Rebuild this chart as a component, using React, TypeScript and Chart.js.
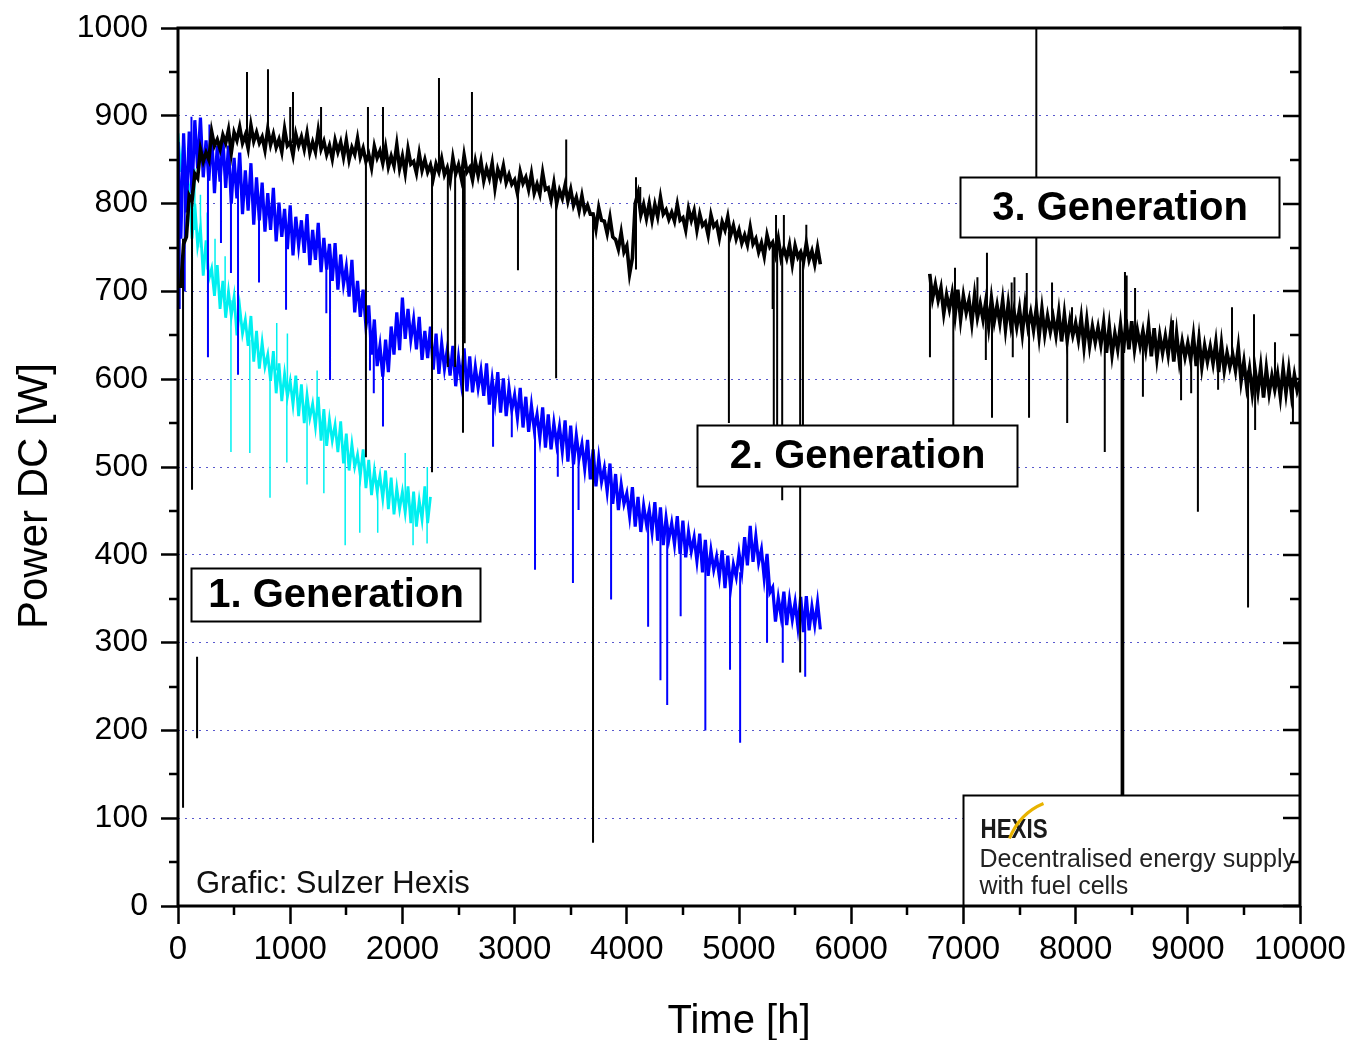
import React, { useEffect, useRef } from "react";
import { Chart, registerables } from "chart.js";

Chart.register(...registerables);

// Sampling grid of the logged curves (hours between samples)
const STEP_H = 25;

// 2nd generation system, black curve, from 0 h
const GEN2_BLACK_START = 0;
const GEN2_BLACK = [
  706, 706, 754, 762, 809, 803, 834, 829, 862, 848, 858, 850, 882, 866, 873, 862,
  878, 869, 884, 858, 881, 872, 887, 869, 878, 863, 889, 871, 881, 869, 876, 861,
  885, 867, 879, 864, 873, 859, 885, 866, 870, 855, 879, 866, 876, 862, 880, 858,
  870, 859, 883, 862, 871, 856, 866, 851, 872, 859, 870, 853, 872, 850, 864, 856,
  874, 853, 863, 848, 856, 841, 865, 852, 860, 846, 864, 842, 854, 843, 867, 840,
  854, 835, 862, 845, 848, 835, 857, 838, 850, 836, 844, 829, 845, 836, 851, 833,
  841, 826, 852, 834, 844, 829, 855, 836, 841, 827, 848, 832, 848, 826, 840, 829,
  846, 818, 839, 829, 843, 824, 833, 822, 827, 812, 836, 823, 830, 816, 834, 812,
  822, 811, 835, 816, 818, 804, 823, 800, 815, 806, 821, 803, 816, 798, 807, 792,
  809, 791, 798, 788, 788, 771, 795, 781, 780, 766, 784, 762, 759, 748, 767, 745,
  752, 720, 738,
  800, 812, 787, 799, 783,
  800, 781, 799, 785, 807, 788, 793, 782, 790, 780, 799, 781, 784, 770, 794, 781,
  792, 770, 788, 775, 779, 764, 787, 774, 778, 761, 779, 770, 785, 764, 775, 760,
  770, 755, 764, 753, 773, 754, 760, 745, 755, 740, 764, 751, 756, 742, 760, 738,
  749, 738, 753, 731, 752, 739, 745, 734, 755, 736, 746, 731, 750, 731,
];

// 2nd generation system, blue curve, from 0 h
const GEN2_BLUE_START = 0;
const GEN2_BLUE = [
  870, 760, 880, 790, 882, 812, 895, 840, 898, 830, 872, 826, 880, 812, 866, 825,
  874, 818, 866, 800, 852, 806, 858, 788, 838, 792, 846, 776, 830, 781, 824, 768,
  812, 770, 818, 757, 801, 762, 794, 748, 798, 741, 785, 752, 781, 744, 788, 730,
  770, 736, 778, 722, 761, 725, 754, 712, 755, 702, 742, 708, 728, 694, 736, 676,
  712, 671, 702, 660, 684, 628, 668, 615, 638, 603, 645, 608, 660, 628, 676, 633,
  693, 646, 680, 645, 668, 634, 671, 622, 655, 624, 660, 611, 652, 606, 641, 612,
  634, 604, 638, 592, 624, 597, 635, 586, 626, 585, 614, 590, 610, 581, 618, 571,
  600, 574, 608, 562, 601, 558, 590, 565, 582, 556, 590, 545, 580, 540, 570, 543,
  560, 533, 568, 522, 560, 520, 550, 526, 546, 518, 553, 506, 547, 503, 536, 510,
  526, 498, 531, 486, 520, 478, 510, 483, 499, 472, 504, 458, 492, 451, 480, 458,
  470, 444, 477, 432, 466, 426, 456, 435, 451, 426, 460, 416, 454, 411, 442, 418,
  436, 412, 444, 401, 439, 397, 426, 404, 420, 393, 424, 380, 417, 376, 405, 383,
  398, 375, 405, 362, 399, 362, 389, 375, 402, 381, 420, 388, 433, 392, 421, 391,
  406, 373, 401, 357, 363, 324, 351, 330, 358, 320, 349, 326, 346, 318, 352, 312,
  353, 314, 341, 320, 346, 315,
];

// 1st generation system, cyan curve, from 0 h
const GEN1_CYAN_START = 0;
const GEN1_CYAN = [
  880, 836, 870, 800, 815, 760, 800, 752, 772, 718, 758, 714, 726, 695, 730, 680,
  712, 670, 700, 672, 694, 650, 682, 652, 668, 638, 672, 620, 655, 612, 642, 614,
  628, 598, 632, 584, 618, 575, 606, 580, 598, 571, 604, 558, 594, 550, 582, 556,
  572, 546, 580, 530, 566, 524, 554, 530, 548, 517, 552, 504, 538, 496, 526, 500,
  514, 490, 520, 476, 508, 468, 496, 472, 490, 464, 496, 452, 488, 446, 476, 452,
  472, 448, 478, 436, 472, 432, 462, 440, 478, 436, 466,
];

// 3rd generation system, black curve, from 6700 h
const GEN3_BLACK_START = 6700;
const GEN3_BLACK = [
  720, 692, 708, 690,
  704, 675, 696, 680, 698, 672, 702, 668, 695, 676, 690, 664, 696, 670, 686, 668,
  689, 660, 692, 666, 684, 664, 690, 657, 686, 660, 678, 659, 680, 652, 684, 660,
  676, 656, 681, 649, 680, 651, 672, 654, 670, 650, 676, 643, 674, 644, 667, 650,
  664, 645, 670, 637, 667, 638, 660, 642, 659, 639, 664, 630, 660, 628, 652, 634,
  662, 630, 668, 634, 666, 634, 656, 638, 655, 634, 661, 626, 658, 624, 650, 630,
  649, 628, 656, 620, 652, 621, 643, 625, 641, 622, 649, 615, 646, 614, 638, 620,
  637, 618, 642, 608, 640, 610, 630, 614, 628, 610, 636, 598, 620, 592, 612, 584,
  610, 586, 614, 579, 612, 584, 604, 588, 606, 580, 612, 584, 611, 582, 605, 587,
  598,
];

// Outliers: [hour, level before outlier (W), outlier value (W)]
const BLACK_SPIKES = [
  [45, 760, 112], [125, 815, 474], [170, 284, 191],
  [615, 876, 950], [802, 872, 953], [1000, 870, 910], [1025, 869, 927],
  [1275, 866, 910], [1675, 855, 511], [1693, 855, 910], [1827, 852, 910],
  [2264, 842, 494], [2326, 840, 943], [2405, 839, 614], [2470, 838, 614],
  [2540, 838, 539], [2555, 838, 641], [2620, 838, 927], [3030, 826, 724],
  [3370, 815, 601], [3460, 810, 873], [3699, 790, 72], [4082, 725, 830],
  [4120, 795, 819], [4910, 768, 550], [5300, 750, 680], [5310, 750, 540],
  [5330, 748, 787], [5340, 748, 540], [5385, 745, 462], [5400, 745, 787],
  [5545, 742, 266], [5570, 740, 540], [5600, 740, 776],
  [6702, 712, 625], [6910, 688, 540], [6925, 690, 727], [7125, 680, 716],
  [7200, 678, 622], [7210, 678, 744], [7255, 676, 556], [7430, 672, 710],
  [7440, 672, 625], [7455, 672, 716], [7565, 670, 721], [7585, 668, 556],
  [7650, 668, 1000], [7790, 664, 710], [7925, 660, 550], [7968, 660, 682],
  [8260, 648, 517], [8410, 645, 80], [8425, 645, 80], [8440, 645, 722],
  [8455, 645, 718], [8530, 650, 704], [8600, 646, 580], [8868, 640, 667],
  [8940, 638, 576], [9030, 636, 584], [9090, 633, 449], [9100, 632, 657],
  [9270, 628, 588], [9394, 624, 682], [9537, 610, 340], [9590, 600, 674],
  [9600, 600, 542], [9777, 598, 642], [9937, 597, 550],
];

const BLUE_SPIKES = [
  [15, 800, 680], [60, 820, 700], [120, 850, 899], [267, 850, 625],
  [280, 845, 890], [383, 840, 755], [472, 830, 721], [535, 825, 605],
  [722, 800, 710], [963, 780, 679], [1322, 740, 675], [1355, 735, 599],
  [1711, 650, 610], [1745, 650, 584], [1827, 620, 546], [2808, 585, 523],
  [2975, 575, 534], [3182, 550, 383], [3385, 535, 489], [3520, 525, 368],
  [3570, 520, 451], [3860, 480, 349], [4190, 440, 318], [4300, 432, 257],
  [4360, 428, 229], [4480, 420, 330], [4700, 400, 200], [4920, 380, 269],
  [5010, 380, 186], [5250, 390, 300], [5390, 340, 277], [5590, 335, 261],
];

const CYAN_SPIKES = [
  [150, 770, 840], [200, 750, 810], [260, 725, 790], [330, 705, 760],
  [420, 690, 740], [472, 690, 517], [640, 645, 516], [820, 610, 465],
  [880, 610, 664], [970, 590, 505], [975, 590, 652], [1150, 570, 480],
  [1240, 560, 610], [1300, 550, 470], [1490, 530, 411], [1620, 505, 425],
  [1780, 485, 425], [2025, 460, 516], [2095, 455, 411], [2220, 450, 413],
  [2222, 450, 500],
];

const X_TICKS = [0, 1000, 2000, 3000, 4000, 5000, 6000, 7000, 8000, 9000, 10000];
const X_MINOR = [500, 1500, 2500, 3500, 4500, 5500, 6500, 7500, 8500, 9500];
const Y_TICKS = [0, 100, 200, 300, 400, 500, 600, 700, 800, 900, 1000];
const Y_MINOR = [50, 150, 250, 350, 450, 550, 650, 750, 850, 950];

const X_TITLE = "Time [h]";
const Y_TITLE = "Power DC [W]";
const LABELS = [
  { text: "1. Generation", h0: 115, h1: 2690, w0: 385, w1: 325 },
  { text: "2. Generation", h0: 4630, h1: 7475, w0: 548, w1: 478 },
  { text: "3. Generation", h0: 6970, h1: 9815, w0: 830, w1: 762 },
];
const CREDIT = "Grafic: Sulzer Hexis";
const LOGO = "HEXIS";
const LOGO_LINES = ["Decentralised energy supply", "with fuel cells"];

const FONT = "'Liberation Sans', Arial, Helvetica, sans-serif";

function toPoints(start: number, values: number[]) {
  return values.map((y, i) => ({ x: start + i * STEP_H, y }));
}

function spikePoints(list: number[][]) {
  const pts: { x: number; y: number | null }[] = [];
  list.forEach(([h, base, tip]) => {
    pts.push({ x: h, y: base });
    pts.push({ x: h, y: tip });
    pts.push({ x: h, y: null });
  });
  return pts;
}

const overlayPlugin = {
  id: "overlay",
  afterDatasetsDraw(chart: any) {
    const { ctx, scales } = chart;
    const xs = scales.x;
    const ys = scales.y;
    const px = (h: number) => xs.getPixelForValue(h);
    const py = (w: number) => ys.getPixelForValue(w);
    ctx.save();
    // generation labels
    LABELS.forEach((b) => {
      const l = Math.round(px(b.h0)) + 0.5;
      const r = Math.round(px(b.h1)) + 0.5;
      const t = Math.round(py(b.w0)) + 0.5;
      const bt = Math.round(py(b.w1)) + 0.5;
      ctx.fillStyle = "#fff";
      ctx.fillRect(l, t, r - l, bt - t);
      ctx.lineWidth = 2;
      ctx.strokeStyle = "#000";
      ctx.strokeRect(l, t, r - l, bt - t);
      ctx.fillStyle = "#000";
      ctx.font = `bold 40px ${FONT}`;
      ctx.textAlign = "center";
      ctx.textBaseline = "middle";
      ctx.fillText(b.text, (l + r) / 2, (t + bt) / 2 + 1);
    });
    // logo box
    const ll = Math.round(px(7000)) + 0.5;
    const lr = Math.round(px(10000));
    const lt = Math.round(py(126)) + 0.5;
    const lb = Math.round(py(0));
    ctx.fillStyle = "#fff";
    ctx.fillRect(ll, lt, lr - ll, lb - lt);
    ctx.lineWidth = 2;
    ctx.strokeStyle = "#000";
    ctx.strokeRect(ll, lt, lr - ll, lb - lt);
    ctx.textAlign = "left";
    ctx.textBaseline = "alphabetic";
    // HEXIS logo
    ctx.save();
    ctx.translate(ll + 17, lt + 42);
    ctx.scale(0.8, 1);
    ctx.font = `bold 28px ${FONT}`;
    ctx.fillStyle = "#1a1a1a";
    ctx.fillText(LOGO, 0, 0);
    ctx.restore();
    ctx.beginPath();
    ctx.moveTo(ll + 46, lt + 43);
    ctx.quadraticCurveTo(ll + 56, lt + 18, ll + 80, lt + 8);
    ctx.lineWidth = 3;
    ctx.strokeStyle = "#e8b300";
    ctx.stroke();
    ctx.fillStyle = "#222";
    ctx.font = `25px ${FONT}`;
    ctx.fillText(LOGO_LINES[0], ll + 16, lt + 71);
    ctx.fillText(LOGO_LINES[1], ll + 16, lt + 98);
    // credit
    ctx.fillStyle = "#111";
    ctx.font = `31px ${FONT}`;
    ctx.fillText(CREDIT, px(160), py(15));
    ctx.restore();
  },
  afterDraw(chart: any) {
    const { ctx, chartArea, scales } = chart;
    const xs = scales.x;
    const ys = scales.y;
    const { left, right, top, bottom } = chartArea;
    ctx.save();
    ctx.strokeStyle = "#000";
    ctx.lineWidth = 3;
    ctx.strokeRect(left, top, right - left, bottom - top);
    ctx.lineWidth = 2.5;
    ctx.beginPath();
    Y_MINOR.forEach((v) => {
      const y = Math.round(ys.getPixelForValue(v));
      ctx.moveTo(left - 9, y);
      ctx.lineTo(left, y);
      ctx.moveTo(right, y);
      ctx.lineTo(right - 10, y);
    });
    Y_TICKS.forEach((v) => {
      const y = Math.round(ys.getPixelForValue(v));
      ctx.moveTo(right, y);
      ctx.lineTo(right - 17, y);
    });
    X_MINOR.forEach((v) => {
      const x = Math.round(xs.getPixelForValue(v));
      ctx.moveTo(x, bottom);
      ctx.lineTo(x, bottom + 9);
    });
    ctx.stroke();
    // axis titles
    ctx.fillStyle = "#000";
    ctx.font = `40px ${FONT}`;
    ctx.textAlign = "center";
    ctx.textBaseline = "alphabetic";
    ctx.fillText(X_TITLE, (left + right) / 2, bottom + 127);
    ctx.save();
    ctx.translate(47, (top + bottom) / 2 + 29);
    ctx.rotate(-Math.PI / 2);
    ctx.font = `42px ${FONT}`;
    ctx.fillText(Y_TITLE, 0, 0);
    ctx.restore();
    ctx.restore();
  },
};

export default function App() {
  const ref = useRef<HTMLCanvasElement | null>(null);
  useEffect(() => {
    document.body.style.margin = "0";
    const canvas = ref.current;
    if (!canvas) return;
    const chart = new Chart(canvas, {
      type: "line",
      data: {
        datasets: [
          {
            data: spikePoints(BLACK_SPIKES),
            borderColor: "#000",
            borderWidth: 2,
            order: 1,
            spanGaps: false,
          },
          {
            data: toPoints(GEN2_BLACK_START, GEN2_BLACK),
            borderColor: "#000",
            borderWidth: 3.6,
            order: 2,
          },
          {
            data: toPoints(GEN3_BLACK_START, GEN3_BLACK),
            borderColor: "#000",
            borderWidth: 3.6,
            order: 2,
          },
          {
            data: spikePoints(BLUE_SPIKES),
            borderColor: "#0000ff",
            borderWidth: 2,
            order: 3,
            spanGaps: false,
          },
          {
            data: toPoints(GEN2_BLUE_START, GEN2_BLUE),
            borderColor: "#0000ff",
            borderWidth: 3.2,
            order: 4,
          },
          {
            data: spikePoints(CYAN_SPIKES),
            borderColor: "#00f0f0",
            borderWidth: 1.5,
            order: 5,
            spanGaps: false,
          },
          {
            data: toPoints(GEN1_CYAN_START, GEN1_CYAN),
            borderColor: "#00f0f0",
            borderWidth: 2.8,
            order: 6,
          },
        ] as any,
      },
      options: {
        responsive: false,
        animation: false,
        layout: { padding: { left: 0, top: 28, right: 47, bottom: 0 } },
        plugins: { legend: { display: false }, tooltip: { enabled: false } },
        elements: { point: { radius: 0 }, line: { tension: 0 } },
        scales: {
          x: {
            type: "linear",
            min: 0,
            max: 10000,
            afterFit: (s: any) => {
              s.height = 134;
              s.paddingLeft = 0;
              s.paddingRight = 0;
            },
            afterBuildTicks: (s: any) => {
              s.ticks = X_TICKS.map((value) => ({ value }));
            },
            ticks: {
              font: { family: FONT, size: 33 },
              color: "#000",
              padding: 6,
              maxRotation: 0,
              autoSkip: false,
              callback: (v: any) => String(v),
            },
            grid: {
              drawOnChartArea: false,
              tickLength: 18,
              tickColor: "#000",
              tickWidth: 2.5,
            },
            border: { display: false },
          },
          y: {
            type: "linear",
            min: 0,
            max: 1000,
            afterFit: (s: any) => {
              s.width = 178;
              s.paddingTop = 0;
              s.paddingBottom = 0;
            },
            afterBuildTicks: (s: any) => {
              s.ticks = Y_TICKS.map((value) => ({ value }));
            },
            ticks: {
              font: { family: FONT, size: 32 },
              color: "#000",
              padding: 13,
              callback: (v: any) => String(v),
            },
            grid: {
              color: "rgba(70,70,200,0.9)",
              lineWidth: 1,
              tickLength: 17,
              tickColor: "#000",
              tickWidth: 2.5,
              tickBorderDash: [],
            },
            border: { display: false, dash: [2, 5] },
          },
        },
      } as any,
      plugins: [overlayPlugin],
    });
    return () => chart.destroy();
  }, []);
  return (
    <div style={{ width: 1347, height: 1040 }}>
      <canvas ref={ref} width={1347} height={1040} style={{ display: "block" }} />
    </div>
  );
}
